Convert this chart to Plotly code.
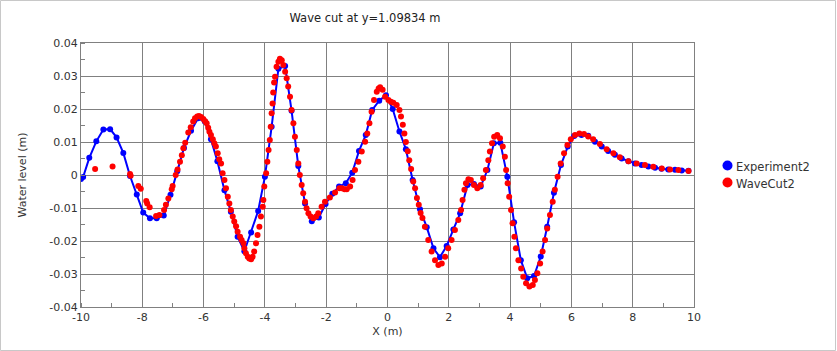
import plotly.graph_objects as go

# ---- data ----
exp_x = [-10.00, -9.93, -9.73, -9.50, -9.27, -9.05, -8.84, -8.62, -8.40, -8.18,
         -7.97, -7.75, -7.53, -7.30, -7.08, -6.86, -6.64, -6.41, -6.18, -5.96,
         -5.76, -5.55, -5.32, -5.11, -4.89, -4.67, -4.45, -4.22, -4.00, -3.78,
         -3.56, -3.34, -3.13, -2.91, -2.69, -2.47, -2.24, -2.02, -1.80, -1.58,
         -1.36, -1.15, -0.93, -0.71, -0.50, -0.27, -0.05, 0.17, 0.39, 0.60,
         0.82, 1.06, 1.28, 1.50, 1.71, 1.93, 2.15, 2.37, 2.61, 2.82,
         3.04, 3.26, 3.47, 3.68, 3.91, 4.13, 4.35, 4.56, 4.78, 5.00,
         5.21, 5.43, 5.66, 5.88, 6.09, 6.33, 6.55, 6.77, 6.99, 7.20,
         7.42, 7.64, 7.86, 8.07, 8.29, 8.51, 8.73, 8.94, 9.16, 9.38,
         9.60, 9.82]
exp_y = [-0.0012, -0.0006, 0.0052, 0.0102, 0.0138, 0.0139, 0.0114, 0.0067, -0.0003, -0.0059,
         -0.0114, -0.0131, -0.0131, -0.0123, -0.0060, 0.0011, 0.0082, 0.0134, 0.0172, 0.0162,
         0.0108, 0.0042, -0.0046, -0.0111, -0.0187, -0.0231, -0.0174, -0.0109, -0.0005, 0.0146,
         0.0322, 0.0330, 0.0195, 0.0027, -0.0086, -0.0140, -0.0129, -0.0088, -0.0057, -0.0035,
         -0.0025, 0.0007, 0.0073, 0.0121, 0.0197, 0.0225, 0.0242, 0.0200, 0.0132, 0.0078,
         -0.0015, -0.0104, -0.0158, -0.0222, -0.0249, -0.0215, -0.0165, -0.0116, -0.0030, -0.0027,
         -0.0035, 0.0015, 0.0096, 0.0098, -0.0005, -0.0143, -0.0258, -0.0313, -0.0306, -0.0247,
         -0.0157, -0.0054, 0.0030, 0.0086, 0.0118, 0.0121, 0.0119, 0.0101, 0.0086, 0.0073,
         0.0061, 0.0050, 0.0042, 0.0035, 0.0030, 0.0026, 0.0022, 0.0019, 0.0017, 0.0016,
         0.0014, 0.0013]

cut_x = [-9.54, -8.97, -8.40, -8.38, -8.13, -8.05, -7.87, -7.84, -7.76, -7.55,
         -7.44, -7.29, -7.23, -7.15, -7.04, -7.01, -6.91, -6.85, -6.77, -6.71,
         -6.66, -6.60, -6.50, -6.42, -6.34, -6.28, -6.21, -6.15, -6.08, -6.01,
         -5.95, -5.90, -5.85, -5.81, -5.76, -5.70, -5.65, -5.60, -5.54, -5.49,
         -5.43, -5.38, -5.32, -5.27, -5.21, -5.16, -5.11, -5.05, -5.00, -4.94,
         -4.89, -4.81, -4.76, -4.70, -4.67, -4.62, -4.56, -4.51, -4.45, -4.40,
         -4.35, -4.29, -4.24, -4.18, -4.13, -4.07, -4.05, -4.02, -3.96, -3.92,
         -3.88, -3.84, -3.81, -3.78, -3.75, -3.73, -3.70, -3.67, -3.62, -3.56,
         -3.51, -3.45, -3.40, -3.34, -3.29, -3.24, -3.18, -3.13, -3.07, -3.02,
         -2.96, -2.91, -2.86, -2.80, -2.75, -2.69, -2.64, -2.58, -2.51, -2.42,
         -2.33, -2.26, -2.15, -2.04, -1.88, -1.71, -1.57, -1.49, -1.40, -1.33,
         -1.22, -1.14, -1.06, -0.95, -0.84, -0.73, -0.66, -0.59, -0.52, -0.44,
         -0.35, -0.29, -0.24, -0.16, -0.08, 0.03, 0.11, 0.19, 0.30, 0.39,
         0.44, 0.50, 0.55, 0.60, 0.66, 0.71, 0.77, 0.84, 0.90, 0.96,
         1.02, 1.08, 1.14, 1.22, 1.33, 1.44, 1.55, 1.66, 1.77, 1.88,
         1.98, 2.09, 2.20, 2.31, 2.40, 2.45, 2.51, 2.56, 2.64, 2.72,
         2.82, 2.93, 3.04, 3.12, 3.21, 3.29, 3.34, 3.41, 3.48, 3.58,
         3.67, 3.76, 3.83, 3.87, 3.92, 3.97, 4.03, 4.08, 4.14, 4.19,
         4.27, 4.36, 4.43, 4.52, 4.63, 4.74, 4.81, 4.89, 4.98, 5.06,
         5.14, 5.21, 5.30, 5.39, 5.46, 5.55, 5.65, 5.76, 5.87, 5.98,
         6.12, 6.26, 6.41, 6.55, 6.71, 6.93, 7.15, 7.37, 7.58, 7.86,
         8.13, 8.40, 8.67, 8.95, 9.22, 9.49, 9.82]
cut_y = [0.0018, 0.0026, 0.0003, -0.0002, -0.0033, -0.0042, -0.0079, -0.0086, -0.0098, -0.0124,
         -0.0121, -0.0106, -0.0090, -0.0071, -0.0043, -0.0033, 0.0000, 0.0017, 0.0040, 0.0060,
         0.0081, 0.0098, 0.0129, 0.0145, 0.0162, 0.0172, 0.0177, 0.0179, 0.0176, 0.0170,
         0.0163, 0.0157, 0.0143, 0.0131, 0.0121, 0.0108, 0.0096, 0.0086, 0.0066, 0.0048,
         0.0035, 0.0005, -0.0015, -0.0040, -0.0066, -0.0086, -0.0106, -0.0126, -0.0141, -0.0155,
         -0.0172, -0.0187, -0.0197, -0.0207, -0.0222, -0.0237, -0.0248, -0.0253, -0.0255, -0.0248,
         -0.0232, -0.0207, -0.0182, -0.0157, -0.0126, -0.0096, -0.0076, -0.0035, 0.0005, 0.0040,
         0.0076, 0.0106, 0.0146, 0.0187, 0.0217, 0.0250, 0.0280, 0.0298, 0.0328, 0.0343,
         0.0352, 0.0348, 0.0333, 0.0313, 0.0293, 0.0268, 0.0237, 0.0197, 0.0157, 0.0116,
         0.0076, 0.0035, 0.0000, -0.0030, -0.0055, -0.0081, -0.0101, -0.0116, -0.0126, -0.0131,
         -0.0126, -0.0116, -0.0096, -0.0081, -0.0068, -0.0053, -0.0040, -0.0040, -0.0043, -0.0043,
         -0.0035, -0.0015, 0.0015, 0.0040, 0.0071, 0.0101, 0.0126, 0.0157, 0.0192, 0.0227,
         0.0252, 0.0262, 0.0266, 0.0258, 0.0237, 0.0227, 0.0222, 0.0219, 0.0212, 0.0197,
         0.0177, 0.0152, 0.0126, 0.0100, 0.0072, 0.0045, 0.0018, -0.0020, -0.0040, -0.0070,
         -0.0090, -0.0115, -0.0130, -0.0157, -0.0197, -0.0232, -0.0258, -0.0273, -0.0268, -0.0248,
         -0.0222, -0.0197, -0.0167, -0.0136, -0.0106, -0.0076, -0.0045, -0.0025, -0.0013, -0.0015,
         -0.0030, -0.0040, -0.0030, -0.0010, 0.0015, 0.0045, 0.0071, 0.0096, 0.0116, 0.0121,
         0.0111, 0.0086, 0.0055, 0.0015, -0.0025, -0.0066, -0.0106, -0.0146, -0.0187, -0.0222,
         -0.0258, -0.0283, -0.0308, -0.0328, -0.0338, -0.0333, -0.0318, -0.0298, -0.0268, -0.0232,
         -0.0197, -0.0162, -0.0121, -0.0081, -0.0045, -0.0005, 0.0035, 0.0066, 0.0091, 0.0108,
         0.0121, 0.0126, 0.0124, 0.0117, 0.0108, 0.0094, 0.0078, 0.0066, 0.0054, 0.0042,
         0.0035, 0.0030, 0.0025, 0.0020, 0.0017, 0.0015, 0.0012]

x_ticks = [-10, -8, -6, -4, -2, 0, 2, 4, 6, 8, 10]
x_tick_labels = ["-10", "-8", "-6", "-4", "-2", "0", "2", "4", "6", "8", "10"]
y_ticks = [-0.04, -0.03, -0.02, -0.01, 0, 0.01, 0.02, 0.03, 0.04]
y_tick_labels = ["-0.04", "-0.03", "-0.02", "-0.01", "0", "0.01", "0.02", "0.03", "0.04"]
series_names = ["Experiment2", "WaveCut2"]
series_colors = ["#0000ff", "#ff0000"]

FONT = "DejaVu Sans"
W, H = 837, 351
ML, MR, MT, MB = 81, 143, 43, 44
PW, PH = W - ML - MR, H - MT - MB


def px_to_paper_x(px):
    return (px - ML) / PW


def px_to_paper_y(py):
    return (H - MB - py) / PH


fig = go.Figure()
fig.add_trace(go.Scatter(x=exp_x, y=exp_y, mode="lines+markers", name=series_names[0],
                         showlegend=False,
                         line=dict(color=series_colors[0], width=2),
                         marker=dict(color=series_colors[0], size=6)))
fig.add_trace(go.Scatter(x=cut_x, y=cut_y, mode="markers", name=series_names[1],
                         showlegend=False,
                         marker=dict(color=series_colors[1], size=6)))

axis_common = dict(showgrid=True, gridcolor="#808080", gridwidth=1,
                   showline=True, linecolor="#808080", linewidth=1, mirror=True,
                   zeroline=False, ticks="", automargin=False,
                   tickfont=dict(family=FONT, size=11, color="#333333"))
fig.update_xaxes(range=[-10, 10], tickvals=x_ticks, ticktext=x_tick_labels,
                 title=dict(text="X (m)", font=dict(family=FONT, size=11, color="#333333"), standoff=4),
                 minor=dict(ticks="inside", ticklen=4, tickcolor="#808080", dtick=1, showgrid=False),
                 **axis_common)
fig.update_yaxes(range=[-0.04, 0.04], tickvals=y_ticks, ticktext=y_tick_labels,
                 title=dict(text="Water level (m)", font=dict(family=FONT, size=11, color="#333333"), standoff=20),
                 minor=dict(ticks="inside", ticklen=4, tickcolor="#808080", dtick=0.005, showgrid=False),
                 **axis_common)

# hand-drawn legend (dot + label)
legend_rows = [165.5, 182.5]
shapes = [dict(type="rect", xref="paper", yref="paper",
               x0=px_to_paper_x(0.5), x1=px_to_paper_x(835.5),
               y0=px_to_paper_y(350.5), y1=px_to_paper_y(0.5),
               line=dict(color="#c8c8c8", width=1), fillcolor="rgba(0,0,0,0)", layer="below")]
annotations = []
for name, color, row in zip(series_names, series_colors, legend_rows):
    shapes.append(dict(type="circle", xref="paper", yref="paper",
                       xsizemode="pixel", ysizemode="pixel",
                       xanchor=px_to_paper_x(727.5), yanchor=px_to_paper_y(row),
                       x0=-5, x1=5, y0=-5, y1=5,
                       fillcolor=color, line=dict(color=color, width=0)))
    annotations.append(dict(xref="paper", yref="paper", x=px_to_paper_x(734),
                            y=px_to_paper_y(row + 1), xanchor="left", yanchor="middle",
                            text=name, showarrow=False,
                            font=dict(family=FONT, size=11.5, color="#333333")))

fig.update_layout(
    width=W, height=H,
    margin=dict(l=ML, r=MR, t=MT, b=MB, autoexpand=False),
    paper_bgcolor="white", plot_bgcolor="white",
    font=dict(family=FONT, size=11, color="#333333"),
    title=dict(text="Wave cut at y=1.09834 m", x=365 / W, xanchor="center",
               y=1 - 18 / H, yanchor="middle", automargin=False,
               font=dict(family=FONT, size=11.5, color="#222222")),
    showlegend=False,
    shapes=shapes,
    annotations=annotations,
)

fig.write_html("out.html", config={"displayModeBar": False},
               post_script="document.body.style.margin='0px';document.body.style.overflow='hidden';")
